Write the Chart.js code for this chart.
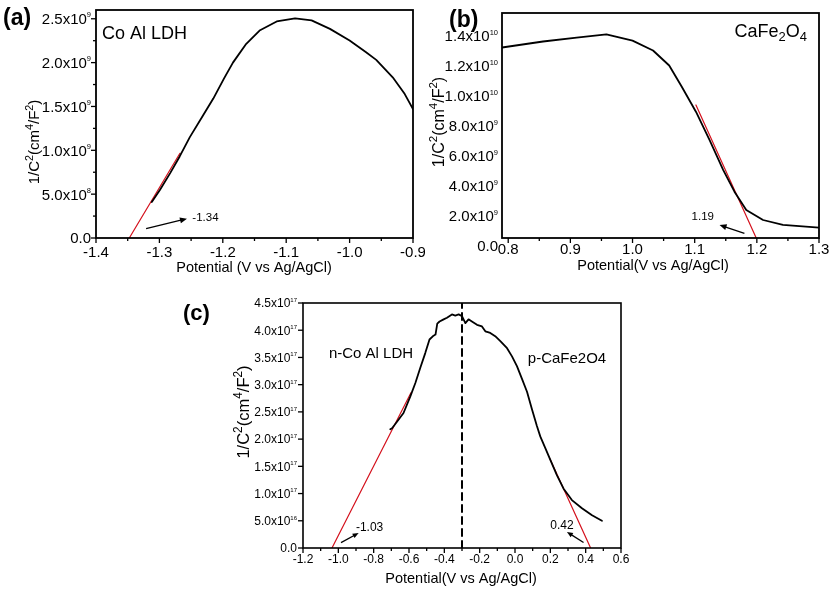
<!DOCTYPE html>
<html><head><meta charset="utf-8">
<script src="https://cdn.jsdelivr.net/npm/chart.js@4.4.0/dist/chart.umd.min.js"></script>
<style>
html,body{margin:0;padding:0;background:#fff;}
body{width:831px;height:589px;position:relative;overflow:hidden;}
.p{position:absolute;}
canvas{display:block;}
</style></head><body>
<div class="p" style="left:0;top:0;"><canvas id="ca" width="425" height="285"></canvas></div>
<div class="p" style="left:425px;top:0;"><canvas id="cb" width="406" height="285"></canvas></div>
<div class="p" style="left:180px;top:290px;"><canvas id="cc" width="460" height="299"></canvas></div>
<script>
// ---------- Panel (a): Co Al LDH ----------
const potentialA = [-1.312,-1.299,-1.283,-1.268,-1.252,-1.231,-1.215,-1.198,-1.184,-1.163,-1.142,-1.115,-1.086,-1.06,-1.031,-1.0,-0.974,-0.958,-0.932,-0.913,-0.9];
const invC2A = [0.41e9,0.55e9,0.74e9,0.93e9,1.15e9,1.40e9,1.59e9,1.82e9,2.0e9,2.214e9,2.366e9,2.469e9,2.505e9,2.481e9,2.385e9,2.252e9,2.118e9,2.031e9,1.832e9,1.641e9,1.469e9];
const fitPotentialA = [-1.3475,-1.2676];
const fitInvC2A = [0,0.966e9];
const xTicksA = [-1.4,-1.3,-1.2,-1.1,-1.0,-0.9];
const xLabelsA = ['-1.4','-1.3','-1.2','-1.1','-1.0','-0.9'];
const xMinorA = [-1.35,-1.25,-1.15,-1.05,-0.95];
const yTicksA = [0,0.5e9,1.0e9,1.5e9,2.0e9,2.5e9];
const yLabelsA = ['0.0','5.0x10^{8}','1.0x10^{9}','1.5x10^{9}','2.0x10^{9}','2.5x10^{9}'];
const yMinorA = [0.25e9,0.75e9,1.25e9,1.75e9,2.25e9];

// ---------- Panel (b): CaFe2O4 ----------
const potentialB = [0.79,0.856,0.91,0.958,1.0,1.033,1.059,1.079,1.102,1.124,1.146,1.164,1.183,1.21,1.242,1.3];
const invC2B = [12.7e9,13.1e9,13.36e9,13.58e9,13.16e9,12.5e9,11.5e9,10.1e9,8.42e9,6.53e9,4.53e9,3.09e9,1.87e9,1.2e9,0.87e9,0.69e9];
const fitPotentialB = [1.102,1.199];
const fitInvC2B = [8.87e9,0];
const xTicksB = [0.8,0.9,1.0,1.1,1.2,1.3];
const xLabelsB = ['0.8','0.9','1.0','1.1','1.2','1.3'];
const xMinorB = [0.85,0.95,1.05,1.15,1.25];
const yTicksB = [0,2e9,4e9,6e9,8e9,10e9,12e9,14e9];
const yLabelsB = ['0.0','2.0x10^{9}','4.0x10^{9}','6.0x10^{9}','8.0x10^{9}','1.0x10^{10}','1.2x10^{10}','1.4x10^{10}'];

// ---------- Panel (c): n-Co Al LDH / p-CaFe2O4 ----------
const potentialC = [-0.706,-0.696,-0.668,-0.631,-0.593,-0.564,-0.536,-0.508,-0.484,-0.461,-0.45,-0.44,-0.427,-0.404,-0.385,-0.357,-0.338,-0.319,-0.30,-0.281,-0.263,-0.244,-0.215,-0.187,-0.168,-0.14,-0.112,-0.083,-0.045,-0.017,0.011,0.039,0.068,0.096,0.124,0.143,0.171,0.20,0.237,0.275,0.322,0.379,0.436,0.492];
const invC2C = [2.18e17,2.20e17,2.32e17,2.48e17,2.78e17,3.03e17,3.31e17,3.58e17,3.83e17,3.90e17,3.92e17,4.12e17,4.16e17,4.20e17,4.23e17,4.29e17,4.27e17,4.29e17,4.26e17,4.13e17,4.20e17,4.16e17,4.10e17,4.07e17,3.98e17,3.95e17,3.89e17,3.80e17,3.67e17,3.52e17,3.34e17,3.11e17,2.87e17,2.55e17,2.24e17,2.05e17,1.84e17,1.62e17,1.34e17,1.09e17,0.88e17,0.73e17,0.60e17,0.50e17];
const fitPotentialCn = [-1.036,-0.589];
const fitInvC2Cn = [0,2.85e17];
const fitPotentialCp = [0.196,0.428];
const fitInvC2Cp = [1.65e17,0];
const dividerPotentialC = [-0.3,-0.3];
const dividerInvC2C = [0,4.5e17];
const xTicksC = [-1.2,-1.0,-0.8,-0.6,-0.4,-0.2,0,0.2,0.4,0.6];
const xLabelsC = ['-1.2','-1.0','-0.8','-0.6','-0.4','-0.2','0.0','0.2','0.4','0.6'];
const xMinorC = [-1.1,-0.9,-0.7,-0.5,-0.3,-0.1,0.1,0.3,0.5];
const yTicksC = [0,0.5e17,1.0e17,1.5e17,2.0e17,2.5e17,3.0e17,3.5e17,4.0e17,4.5e17];
const yLabelsC = ['0.0','5.0x10^{16}','1.0x10^{17}','1.5x10^{17}','2.0x10^{17}','2.5x10^{17}','3.0x10^{17}','3.5x10^{17}','4.0x10^{17}','4.5x10^{17}'];

const FONT = '"Liberation Sans", Arial, Helvetica, sans-serif';
const RED = '#d4101c';

function pts(xs, ys){ return xs.map((x,i)=>({x:x, y:ys[i]})); }

function parseRich(str){
  const segs=[]; const re=/([\^_])\{([^}]*)\}|([^\^_]+)/g; let m;
  while((m=re.exec(str))){ if(m[3]) segs.push({t:m[3]}); else segs.push({t:m[2], s: m[1]==='^'?'sup':'sub'}); }
  return segs;
}
function drawRich(ctx, str, x, y, size, o){
  o = o||{};
  const w = o.bold ? 'bold ' : '';
  const parts = parseRich(str).map(s=>{
    const sz = s.s ? size*(o.supScale||0.72) : size;
    const font = w + sz + 'px ' + FONT;
    ctx.font = font;
    return {t:s.t, font, w:ctx.measureText(s.t).width, dy: s.s==='sup' ? -size*(o.supRaise||0.42) : s.s==='sub' ? size*0.22 : 0};
  });
  const total = parts.reduce((a,p)=>a+p.w,0);
  ctx.save();
  ctx.translate(x,y);
  if (o.rot) ctx.rotate(o.rot);
  let cx = o.align==='center' ? -total/2 : o.align==='right' ? -total : 0;
  const base = o.middle ? size*0.36 : 0;
  ctx.fillStyle = '#000'; ctx.textAlign='left'; ctx.textBaseline='alphabetic';
  parts.forEach(p=>{ ctx.font=p.font; ctx.fillText(p.t, cx, base+p.dy); cx+=p.w; });
  ctx.restore();
}

function makeDecor(cfg){
  return {
    id: 'decor',
    afterDatasetsDraw(chart){
      const ctx = chart.ctx, xs = chart.scales.x, ys = chart.scales.y;
      ctx.save();
      ctx.strokeStyle = '#000'; ctx.fillStyle = '#000'; ctx.lineWidth = 1.3;
      (cfg.arrows||[]).forEach(a=>{
        const x1 = xs.getPixelForValue(a.from[0]), y1 = ys.getPixelForValue(a.from[1]);
        const x2 = xs.getPixelForValue(a.to[0]), y2 = ys.getPixelForValue(a.to[1]);
        const ang = Math.atan2(y2-y1, x2-x1);
        const L = a.head||7, Hw = a.hw||3;
        ctx.beginPath(); ctx.moveTo(x1,y1); ctx.lineTo(x2 - Math.cos(ang)*L*0.6, y2 - Math.sin(ang)*L*0.6); ctx.stroke();
        ctx.beginPath();
        ctx.moveTo(x2,y2);
        ctx.lineTo(x2 - Math.cos(ang)*L - Math.sin(ang)*Hw, y2 - Math.sin(ang)*L + Math.cos(ang)*Hw);
        ctx.lineTo(x2 - Math.cos(ang)*L + Math.sin(ang)*Hw, y2 - Math.sin(ang)*L - Math.cos(ang)*Hw);
        ctx.closePath(); ctx.fill();
      });
      (cfg.dataTexts||[]).forEach(t=>{
        drawRich(ctx, t.text, xs.getPixelForValue(t.at[0]), ys.getPixelForValue(t.at[1]), t.size, {align:t.align, middle:true});
      });
      ctx.restore();
    },
    afterDraw(chart){
      const ctx = chart.ctx, ca = chart.chartArea, xs = chart.scales.x, ys = chart.scales.y;
      ctx.save();
      ctx.strokeStyle = '#000';
      ctx.lineWidth = cfg.frameWidth||1.6;
      ctx.strokeRect(ca.left, ca.top, ca.right-ca.left, ca.bottom-ca.top);
      ctx.lineWidth = 1.3;
      const tx = (vals, len)=>vals.forEach(v=>{ const p=xs.getPixelForValue(v); ctx.beginPath(); ctx.moveTo(p, ca.bottom); ctx.lineTo(p, ca.bottom+len); ctx.stroke(); });
      const ty = (vals, len)=>vals.forEach(v=>{ const p=ys.getPixelForValue(v); ctx.beginPath(); ctx.moveTo(ca.left, p); ctx.lineTo(ca.left-len, p); ctx.stroke(); });
      if (cfg.xMajor) tx(cfg.xMajor, 5);
      if (cfg.xMinor) tx(cfg.xMinor, 3);
      if (cfg.yMajor) ty(cfg.yMajor, 5);
      if (cfg.yMinor) ty(cfg.yMinor, 3);
      // tick labels, placed through the chart's scales
      const xl = cfg.xLab;
      xs.ticks.forEach((t,i)=>{
        drawRich(ctx, xl.labels[i], xs.getPixelForValue(t.value), ca.bottom + xl.dy, xl.size, {align:'center', middle:true});
      });
      const yl = cfg.yLab;
      ys.ticks.forEach((t,i)=>{
        drawRich(ctx, yl.labels[i], ca.left - yl.dx, ys.getPixelForValue(t.value) + (yl.dy||0), yl.size, {align:'right', middle:true, supScale:0.5, supRaise:0.45});
      });
      (cfg.texts||[]).forEach(t=>drawRich(ctx, t.text, t.x, t.y, t.size, t));
      ctx.restore();
    }
  };
}

function makeChart(id, cfg){
  return new Chart(document.getElementById(id), {
    type: 'line',
    data: { datasets: cfg.datasets },
    options: {
      responsive:false, animation:false, events:[],
      layout:{ padding: cfg.pad },
      plugins:{ legend:{display:false}, tooltip:{enabled:false}, title:{display:false} },
      elements:{ point:{radius:0}, line:{tension:0, borderJoinStyle:'round', borderCapStyle:'round'} },
      scales:{
        x:{
          type:'linear', bounds:'data', min:cfg.xMin, max:cfg.xMax,
          grid:{display:false, drawTicks:false}, border:{display:false},
          afterBuildTicks:s=>{ s.ticks = cfg.xTicks.map(v=>({value:v})); },
          afterFit:s=>{ s.height = cfg.xH; },
          ticks:{ display:false, padding:0 }
        },
        y:{
          type:'linear', bounds:'data', min:cfg.yMin, max:cfg.yMax,
          grid:{display:false, drawTicks:false}, border:{display:false},
          afterBuildTicks:s=>{ s.ticks = cfg.yTicks.map(v=>({value:v})); },
          afterFit:s=>{ s.width = cfg.yW; },
          ticks:{ display:false, padding:0 }
        }
      }
    },
    plugins:[ makeDecor(cfg.decor) ]
  });
}

const blackLine = (xs, ys)=>({data:pts(xs,ys), borderColor:'#000', borderWidth:1.8, fill:false});
const redLine = (xs, ys)=>({data:pts(xs,ys), borderColor:RED, borderWidth:1.2, fill:false});

// Panel (a)
makeChart('ca', {
  datasets:[ blackLine(potentialA, invC2A), redLine(fitPotentialA, fitInvC2A) ],
  pad:{left:0, top:10, right:12, bottom:0}, xH:47, yW:96,
  xMin:-1.4, xMax:-0.9, yMin:0, yMax:2.6e9,
  xTicks:xTicksA, yTicks:yTicksA,
  decor:{
    frameWidth:1.8,
    xMajor:xTicksA, xMinor:xMinorA, yMajor:yTicksA, yMinor:yMinorA,
    xLab:{labels:xLabelsA, size:15, dy:14},
    yLab:{labels:yLabelsA, size:15, dx:5},
    arrows:[ {from:[-1.321,0.106e9], to:[-1.2565,0.22e9]} ],
    dataTexts:[ {text:'-1.34', at:[-1.248,0.24e9], size:11.5, align:'left'} ],
    texts:[
      {text:'(a)', x:3, y:25, size:23, bold:true},
      {text:'Co Al LDH', x:102, y:39, size:18},
      {text:'1/C^{2}(cm^{4}/F^{2})', x:34, y:142, size:15, align:'center', rot:-Math.PI/2, middle:true},
      {text:'Potential (V vs Ag/AgCl)', x:254, y:267, size:14.5, align:'center', middle:true}
    ]
  }
});

// Panel (b)
makeChart('cb', {
  datasets:[ blackLine(potentialB, invC2B), redLine(fitPotentialB, fitInvC2B) ],
  pad:{left:0, top:13, right:12, bottom:0}, xH:47, yW:77,
  xMin:0.79, xMax:1.3, yMin:0, yMax:1.5e10,
  xTicks:xTicksB, yTicks:yTicksB,
  decor:{
    frameWidth:1.8,
    xMajor:xTicksB, xMinor:xMinorB,
    xLab:{labels:xLabelsB, size:15, dy:11},
    yLab:{labels:yLabelsB, size:15, dx:4, dy:8},
    arrows:[ {from:[1.18,0.31e9], to:[1.14,0.87e9]} ],
    dataTexts:[ {text:'1.19', at:[1.113,1.47e9], size:11.5, align:'center'} ],
    texts:[
      {text:'(b)', x:24, y:27, size:23, bold:true},
      {text:'CaFe_{2}O_{4}', x:382, y:37, size:18, align:'right'},
      {text:'1/C^{2}(cm^{4}/F^{2})', x:13, y:122, size:16, align:'center', rot:-Math.PI/2, middle:true},
      {text:'Potential(V vs Ag/AgCl)', x:228, y:265, size:14.5, align:'center', middle:true}
    ]
  }
});

// Panel (c)
makeChart('cc', {
  datasets:[
    blackLine(potentialC, invC2C),
    redLine(fitPotentialCn, fitInvC2Cn),
    redLine(fitPotentialCp, fitInvC2Cp),
    {data:pts(dividerPotentialC, dividerInvC2C), borderColor:'#000', borderWidth:2, borderDash:[7,5], fill:false}
  ],
  pad:{left:0, top:13, right:19, bottom:0}, xH:41, yW:123,
  xMin:-1.2, xMax:0.6, yMin:0, yMax:4.5e17,
  xTicks:xTicksC, yTicks:yTicksC,
  decor:{
    xMajor:xTicksC, xMinor:xMinorC, yMajor:yTicksC,
    xLab:{labels:xLabelsC, size:12, dy:11},
    yLab:{labels:yLabelsC, size:12, dx:6},
    arrows:[ {from:[-0.985,0.098e17], to:[-0.885,0.276e17], head:6, hw:2.5}, {from:[0.388,0.10e17], to:[0.294,0.295e17], head:6, hw:2.5} ],
    dataTexts:[ {text:'-1.03', at:[-0.823,0.387e17], size:12, align:'center'}, {text:'0.42', at:[0.266,0.42e17], size:12, align:'center'} ],
    texts:[
      {text:'(c)', x:3, y:30, size:22, bold:true},
      {text:'n-Co Al LDH', x:191, y:63, size:15, align:'center', middle:true},
      {text:'p-CaFe2O4', x:387, y:68, size:15, align:'center', middle:true},
      {text:'1/C^{2}(cm^{4}/F^{2})', x:63, y:122, size:16.5, align:'center', rot:-Math.PI/2, middle:true},
      {text:'Potential(V vs Ag/AgCl)', x:281, y:288, size:14.5, align:'center', middle:true}
    ]
  }
});
</script>
</body></html>
